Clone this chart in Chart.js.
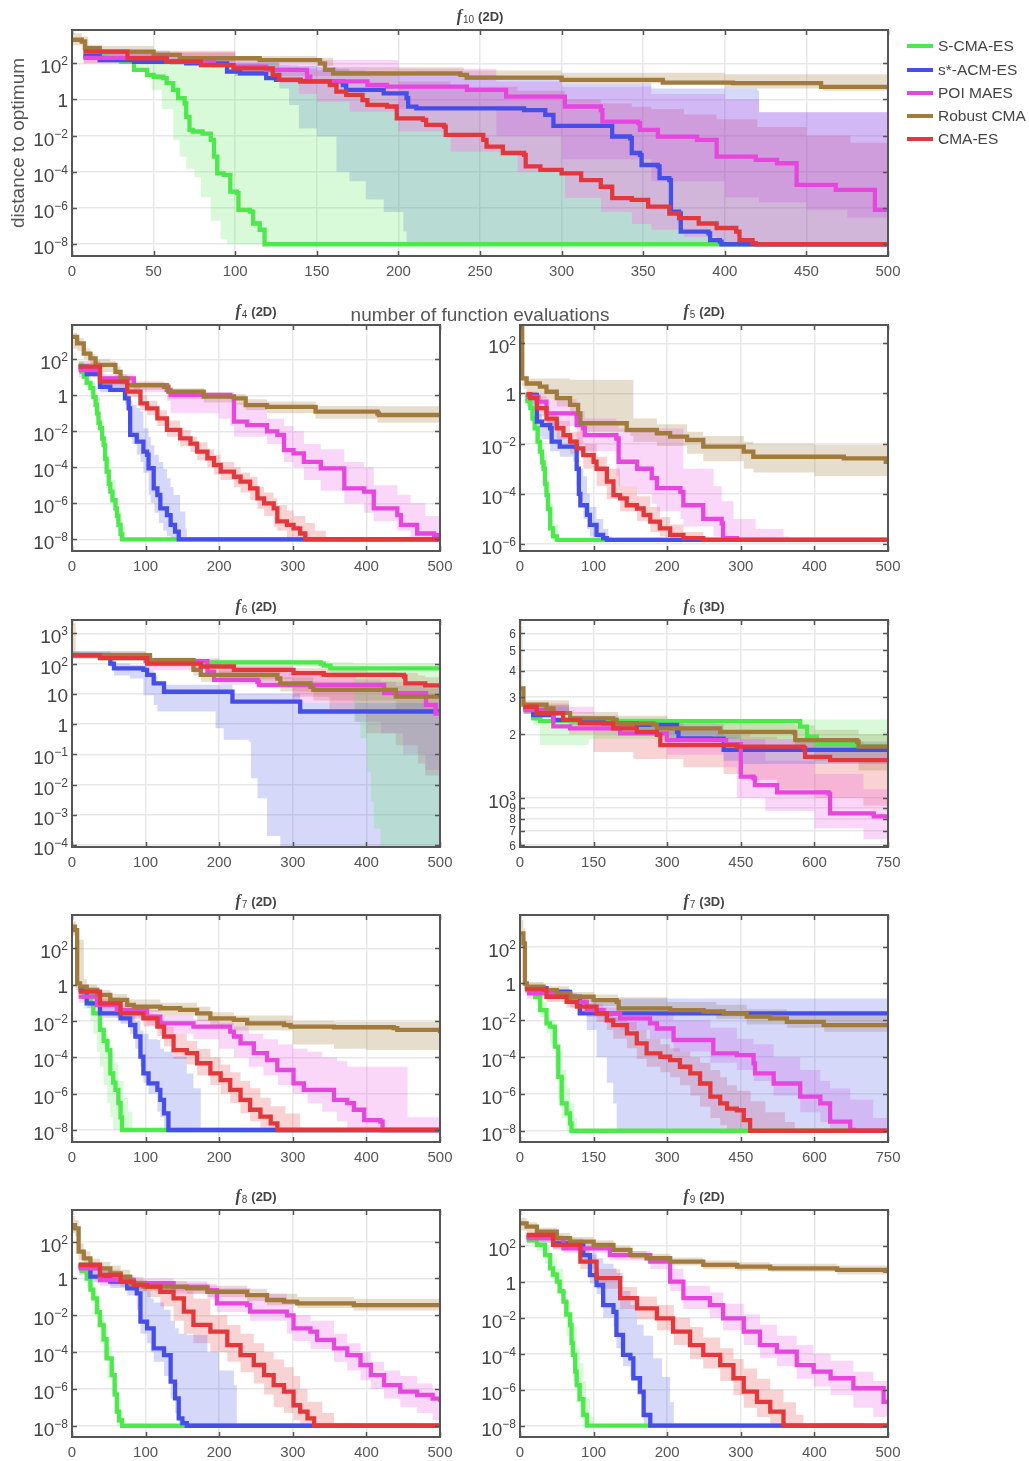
<!DOCTYPE html>
<html><head><meta charset="utf-8">
<script src="https://cdn.jsdelivr.net/npm/chart.js@4.4.1/dist/chart.umd.min.js"></script>
<style>
html,body{margin:0;padding:0;background:#fff}
body{width:1029px;height:1461px;position:relative;overflow:hidden;font-family:"Liberation Sans",Arial,sans-serif}
canvas{position:absolute}
.ttl{position:absolute;transform:translate(-50%,-50%);white-space:nowrap;color:#444;font-size:13px;font-weight:bold;line-height:16px}
.ttl i{font-family:"Liberation Serif",serif;font-size:16px;font-weight:bold;font-style:italic}
.ttl sub{font-size:10px;font-weight:normal;vertical-align:-2px;margin-left:1px;margin-right:4px}
.axl{position:absolute;color:#555;font-size:19px;white-space:nowrap}
.leg{position:absolute;left:907px;color:#444;font-size:15.5px;line-height:18px;white-space:nowrap}
.leg span{position:absolute;left:0;top:7px;width:26px;height:4px}
.leg b{font-weight:normal;position:absolute;left:31px;top:0}
</style></head><body>
<script>
// ---------------- series meta ----------------
const SERIES_KEYS = ['S','A','P','R','C'];
const SERIES_LABELS = ['S-CMA-ES','s*-ACM-ES','POI MAES','Robust CMA','CMA-ES'];
// ---------------- tick labels ----------------
const X_TICKS_50 = [0,50,100,150,200,250,300,350,400,450,500];
const X_TICKS_500 = [0,100,200,300,400,500];
const X_TICKS_750 = [0,150,300,450,600,750];
const Y_TICKS_8 = [1e-8,1e-6,1e-4,1e-2,1,1e2];
const Y_TICKS_6 = [1e-6,1e-4,1e-2,1,1e2];
const Y_TICKS_4 = [1e-4,1e-3,1e-2,1e-1,1,10,100,1000];
const Y_TICKS_F6_3D = [600,700,800,900,1000,2000,3000,4000,5000,6000];

// ---------------- f10 (2D) ----------------
const f10_S = [[7,250],[20,160],[30,120],[38,43],[46,23],[50,18],[56,15],[58,8],[62,3.4],[65,1.2],[69,0.6],[70,0.11],[72,0.021],[74,0.017],[80,0.013],[85,0.0058],[87,7e-4],[89,8.3e-5],[93,6.8e-5],[97,8e-6],[101,6.6e-6],[102,8e-7],[109,6.3e-7],[111,1.4e-7],[115,6.3e-8],[118,1e-8],[500,1e-8]];
const f10_S_band = [[7,150,600],[30,100,250],[40,40,200],[49,3.4,180],[55,0.3,160],[62,0.006,150],[66,7e-4,140],[70,1.5e-4,130],[75,5e-5,120],[79,4e-6,110],[85,2e-7,100],[91,2e-8,100],[95,1e-8,100],[127,1e-8,8],[139,1e-8,2],[150,1e-8,0.76],[170,1e-8,0.21],[200,1e-8,0.017],[232,1e-8,1.3e-3],[273,1e-8,1e-4],[302,1e-8,3.6e-6],[324,1e-8,6.3e-7],[343,1e-8,1.3e-7],[355,1e-8,6.3e-8],[375,1e-8,2.5e-8],[395,1e-8,1e-8],[500,1e-8,1e-8]];
const f10_A = [[7,250],[17,150],[38,120],[70,100],[95,35],[103,28],[119,15],[125,12],[140,10],[166,6.3],[168,3.4],[191,2.2],[205,1.2],[206,0.4],[211,0.32],[277,0.26],[290,0.14],[295,0.035],[330,0.035],[331,0.009],[342,0.0072],[343,0.0011],[348,8.7e-4],[349,2.4e-4],[359,2e-4],[360,4.5e-5],[366,3.5e-5],[367,6.3e-7],[372,5e-7],[373,5e-8],[390,4e-8],[391,1.7e-8],[397,1.4e-8],[398,1e-8],[500,1e-8]];
const f10_A_band = [[7,150,500],[60,80,200],[100,30,120],[127,4,80],[133,0.5,75],[139,0.025,70],[150,0.009,60],[162,1e-4,50],[170,3e-5,40],[180,3e-6,35],[191,6e-7,30],[203,5e-8,25],[205,1e-8,22],[260,1e-8,16],[300,1e-8,8],[355,1e-8,4],[420,1e-8,3],[421,1e-8,0.2],[500,1e-8,0.2]];
const f10_P = [[7,200],[58,126],[87,80],[99,66],[119,43],[144,18],[146,10],[181,6.3],[193,5.1],[242,3.4],[266,1.45],[302,0.41],[324,0.26],[325,0.06],[347,0.049],[348,0.021],[359,0.0089],[383,0.0058],[395,6.9e-4],[419,4.6e-4],[432,3e-4],[444,1.9e-5],[468,1e-5],[492,8e-7],[500,8e-7]];
const f10_P_band = [[7,100,400],[100,20,150],[200,0.3,50],[260,0.01,10],[300,5e-4,5],[355,3e-5,2],[400,4e-6,1],[421,2e-6,0.2],[450,8e-7,0.2],[475,3e-7,0.2],[500,2e-7,0.2]];
const f10_R = [[0,2000],[6,1600],[8,700],[17,440],[50,290],[66,190],[115,150],[152,100],[155,43],[160,28],[238,23],[242,16],[300,12],[362,8.5],[405,8],[459,5],[500,5]];
const f10_R_band = [[0,1000,4600],[6,600,3000],[10,300,900],[50,200,400],[100,120,250],[150,70,200],[160,20,60],[240,12,40],[300,8,30],[400,4,25],[460,3,25],[500,2.7,28]];
const f10_C = [[7,440],[34,190],[58,126],[79,80],[99,52],[123,23],[127,12],[140,10],[158,6.3],[162,2.7],[168,1.8],[178,0.93],[181,0.5],[193,0.41],[199,0.091],[215,0.074],[217,0.04],[228,0.032],[229,0.011],[246,0.011],[252,0.0058],[254,0.0025],[264,0.0011],[277,8.7e-4],[278,2e-4],[287,1.3e-4],[300,8.3e-5],[312,3.5e-5],[324,1.5e-5],[331,3.5e-6],[343,2.8e-6],[353,1.2e-6],[366,5e-7],[372,2.8e-7],[384,1.4e-7],[395,7.9e-8],[407,5e-8],[409,1.7e-8],[417,1.15e-8],[419,1e-8],[500,1e-8]];
const f10_C_band = [[7,100,500],[100,20,100],[127,8,60],[139,2,50],[150,0.76,40],[170,0.21,25],[200,0.017,10],[232,1.3e-3,5],[273,1e-4,3],[302,3.6e-6,1],[324,6.3e-7,0.6],[343,1.3e-7,0.4],[355,6.3e-8,0.3],[375,2.5e-8,0.15],[395,1e-8,0.08],[420,1e-8,0.03],[450,1e-8,0.01],[477,1e-8,0.004],[500,1e-8,0.004]];

// ---------------- f4 (2D) ----------------
const f4_S = [[9,49],[13,20],[16,11],[20,5],[25,2.5],[29,0.8],[32,0.3],[34,0.1],[36,0.03],[38,0.015],[41,4e-3],[43,1.7e-3],[45,3e-4],[47,5.8e-5],[50,1.2e-5],[52,4.5e-6],[55,1.5e-6],[59,5.2e-7],[61,2e-7],[63,6.3e-8],[66,2e-8],[68,1e-8],[500,1e-8]];
const f4_S_band = [[9,20,80],[16,5,20],[25,1,5],[32,0.05,0.8],[38,0.003,0.05],[43,3e-4,5e-3],[47,1e-5,3e-4],[52,1e-6,2e-5],[59,1e-7,2e-6],[63,1e-8,3e-7],[68,1e-8,5e-8],[72,1e-8,1e-8],[500,1e-8,1e-8]];
const f4_A = [[9,40],[20,15],[38,3],[52,2],[72,0.68],[77,0.19],[79,0.0063],[88,0.0027],[97,7.4e-4],[102,5e-4],[104,8.9e-5],[111,6.8e-6],[116,2.9e-6],[120,5.2e-7],[129,2.2e-7],[134,6.3e-8],[140,2.7e-8],[145,1e-8],[500,1e-8]];
const f4_A_band = [[9,20,60],[38,1.5,5],[72,0.3,1.2],[77,0.005,0.5],[82,0.002,0.29],[88,5e-4,0.2],[93,2e-4,0.126],[97,5e-5,0.015],[104,3e-6,0.005],[107,1e-6,1.7e-3],[112,3e-7,5e-4],[118,8e-8,2e-4],[124,3e-8,8e-5],[129,1.5e-8,2.5e-5],[134,1e-8,8e-6],[138,1e-8,2.9e-6],[147,1e-8,3.5e-7],[154,1e-8,4e-8],[156,1e-8,1e-8],[500,1e-8,1e-8]];
const f4_P = [[9,25],[38,8.7],[84,3.7],[129,2],[134,1.05],[215,0.85],[220,0.035],[238,0.022],[265,0.01],[279,0.0063],[288,9e-4],[301,6e-4],[315,2e-4],[338,8.7e-5],[370,6.8e-6],[397,4.5e-6],[410,5.2e-7],[442,2.2e-7],[447,6.3e-8],[469,2.1e-8],[492,1.7e-8],[496,1e-8],[500,1e-8]];
const f4_P_band = [[9,10,40],[38,4,15],[84,1.5,5],[129,0.5,2.5],[134,0.1,1.2],[200,0.05,1.1],[215,0.02,0.9],[220,0.005,0.4],[265,0.002,0.05],[288,2e-4,0.02],[301,1e-4,0.01],[315,2e-5,0.002],[338,5e-6,0.001],[370,1e-6,2e-4],[397,3e-7,1e-4],[410,1e-7,1e-5],[442,3e-8,3e-6],[460,1e-8,1e-6],[480,1e-8,2e-7],[500,1e-8,1e-7]];
const f4_R = [[0,1800],[7,780],[16,210],[25,115],[32,49],[52,49],[59,20],[66,8.7],[75,3.7],[125,3],[131,1.6],[179,0.85],[220,0.68],[236,0.29],[265,0.23],[331,0.126],[415,0.1],[417,0.081],[500,0.081]];
const f4_R_band = [[0,400,3000],[7,300,1500],[16,100,400],[25,50,200],[32,20,100],[52,20,80],[59,8,40],[66,4,15],[75,2,6],[125,1.5,5],[131,0.6,2.5],[179,0.4,1.5],[220,0.3,1.2],[236,0.15,0.6],[265,0.1,0.45],[331,0.05,0.26],[415,0.03,0.25],[500,0.028,0.25]];
const f4_C = [[9,40],[38,5.8],[75,1.6],[93,0.36],[102,0.19],[116,0.052],[129,0.012],[147,0.0041],[161,2.1e-3],[170,7.4e-4],[184,3.2e-4],[193,1.35e-4],[202,5.8e-5],[220,3e-5],[229,1.6e-5],[242,6.8e-6],[252,1.9e-6],[261,1e-6],[274,5.2e-7],[279,1e-7],[292,6.3e-8],[301,4.1e-8],[310,2.1e-8],[317,1e-8],[500,1e-8]];
const f4_C_band = [[9,20,80],[38,3,12],[75,0.8,3],[93,0.15,1],[102,0.08,0.5],[116,0.02,0.15],[129,0.005,0.04],[147,1.5e-3,0.012],[161,7e-4,5e-3],[170,2.5e-4,2.5e-3],[184,1e-4,1e-3],[193,4e-5,5e-4],[202,2e-5,2e-4],[220,8e-6,1e-4],[229,4e-6,5e-5],[242,1.5e-6,3e-5],[252,5e-7,8e-6],[261,2e-7,4e-6],[274,5e-8,2e-6],[279,3e-8,8e-7],[292,1e-8,4e-7],[301,1e-8,2e-7],[317,1e-8,8e-8],[330,1e-8,3e-8],[345,1e-8,1e-8],[500,1e-8,1e-8]];

// ---------------- f5 (2D) ----------------
const f5_S = [[7,0.87],[10,0.5],[14,0.26],[17,0.1],[20,0.041],[24,0.012],[27,0.0048],[30,0.0018],[32,0.001],[34,2.5e-4],[36,8.9e-5],[38,2.5e-5],[41,4.2e-6],[45,2e-6],[50,1.45e-6],[500,1.45e-6]];
const f5_S_band = [[7,0.5,1.2],[14,0.1,0.5],[20,0.01,0.1],[27,1e-3,0.012],[32,1.2e-4,0.003],[36,1.5e-5,3e-4],[41,2e-6,4e-5],[45,1.45e-6,6e-6],[52,1.45e-6,1.45e-6],[500,1.45e-6,1.45e-6]];
const f5_A = [[9,0.87],[23,0.076],[30,0.055],[41,0.041],[43,0.012],[54,0.0076],[72,0.0076],[77,0.001],[80,1e-4],[82,3.5e-5],[91,1.45e-5],[95,5.8e-6],[104,2.3e-6],[113,1.7e-6],[118,1.45e-6],[500,1.45e-6]];
const f5_A_band = [[9,0.3,1],[23,0.02,0.15],[30,0.015,0.1],[41,0.005,0.08],[54,0.003,0.02],[72,0.002,0.015],[77,2e-4,0.005],[80,5e-5,0.001],[86,1e-5,5e-4],[91,4e-6,1e-4],[95,2e-6,3e-5],[104,1.45e-6,1e-5],[113,1.45e-6,4e-6],[120,1.45e-6,2e-6],[125,1.45e-6,1.45e-6],[500,1.45e-6,1.45e-6]];
const f5_P = [[9,0.74],[25,0.47],[36,0.16],[77,0.055],[86,0.041],[88,0.022],[131,0.016],[134,0.0019],[159,0.001],[179,4.2e-4],[186,1.7e-4],[218,1.2e-4],[222,3.5e-5],[249,1e-5],[274,6.6e-6],[276,1.7e-6],[295,1.45e-6],[500,1.45e-6]];
const f5_P_band = [[9,0.4,1.1],[25,0.2,0.8],[36,0.05,0.6],[77,0.01,0.2],[88,0.005,0.1],[131,5e-4,0.06],[134,2e-4,0.04],[159,1e-4,0.04],[179,4e-5,0.04],[186,2e-5,0.04],[218,1e-5,0.04],[222,5e-6,0.001],[263,2e-6,2e-4],[274,1.45e-6,5e-5],[290,1.45e-6,1e-5],[320,1.45e-6,4e-6],[358,1.45e-6,2e-6],[365,1.45e-6,1.45e-6],[500,1.45e-6,1.45e-6]];
const f5_R = [[0,400],[3,4],[9,2.5],[27,1.86],[36,1.17],[50,0.65],[68,0.35],[79,0.16],[82,0.065],[143,0.065],[145,0.035],[186,0.026],[204,0.019],[227,0.014],[249,0.0076],[304,0.0048],[317,0.003],[440,0.0026],[497,0.0019],[500,0.0019]];
const f5_R_band = [[0,100,600],[3,2,300],[5,1.5,5],[9,1,4],[27,0.6,4],[50,0.3,4],[68,0.15,3.5],[82,0.03,3.5],[150,0.02,3.5],[154,0.012,0.1],[186,0.008,0.06],[227,0.004,0.03],[249,0.002,0.02],[304,0.001,0.012],[317,7e-4,0.01],[400,5e-4,0.009],[500,5e-4,0.009]];
const f5_C = [[9,0.93],[14,0.65],[23,0.26],[36,0.1],[50,0.041],[59,0.022],[68,0.012],[77,0.0065],[86,0.0035],[100,0.0019],[104,0.001],[118,3.1e-4],[127,8.9e-5],[136,6.6e-5],[145,3.5e-5],[159,2.6e-5],[168,1.45e-5],[177,7.8e-6],[190,4.2e-6],[204,2.3e-6],[222,1.7e-6],[249,1.45e-6],[500,1.45e-6]];
const f5_C_band = [[9,0.5,1.2],[23,0.12,0.5],[36,0.04,0.2],[50,0.015,0.08],[68,0.004,0.03],[86,0.001,0.01],[104,2e-4,0.003],[118,6e-5,0.001],[136,2e-5,2e-4],[159,8e-6,8e-5],[177,3e-6,3e-5],[190,2e-6,1.2e-5],[204,1.45e-6,6e-6],[222,1.45e-6,3e-6],[249,1.45e-6,1.8e-6],[270,1.45e-6,1.45e-6],[500,1.45e-6,1.45e-6]];

// ---------------- f6 (2D) ----------------
const f6a_S = [[0,190],[38,150],[106,115],[175,110],[338,100],[342,85],[351,69],[500,66]];
const f6a_S_band = [[0,150,250],[100,90,140],[300,80,120],[350,50,110],[383,1.2,100],[392,0.34,100],[401,0.026,100],[406,2.7e-3,100],[410,3.5e-4,100],[419,1e-5,100],[500,1e-5,100]];
const f6a_A = [[0,190],[52,100],[57,69],[97,62],[102,42],[111,22],[125,11.7],[215,11.7],[218,5.5],[306,5.5],[310,2.6],[492,2.6],[500,2.9]];
const f6a_A_band = [[0,150,250],[52,80,150],[57,40,100],[79,32,90],[97,9,80],[102,9,60],[111,4.3,40],[116,2.6,25],[125,2.6,20],[193,2.6,20],[195,0.72,20],[206,0.3,20],[218,0.3,10],[240,0.26,10],[243,0.016,10],[252,3.5e-3,10],[265,2e-4,10],[283,1e-5,10],[306,1e-5,10],[310,1e-5,5],[500,1e-5,5]];
const f6a_P = [[0,190],[100,120],[184,54],[193,29],[252,25],[254,19.5],[422,19.5],[424,10.5],[480,10.5],[481,4.3],[494,2.2],[500,2.2]];
const f6a_P_band = [[0,150,250],[100,60,150],[200,20,80],[300,5,40],[385,1.2,30],[420,0.5,25],[450,0.1,20],[480,0.03,15],[500,0.02,12]];
const f6a_R = [[0,190],[106,130],[165,62],[175,42],[279,32],[283,22],[324,17],[328,13.5],[437,13.5],[440,8],[500,8]];
const f6a_R_band = [[0,150,2100],[5,150,250],[10,150,220],[106,100,160],[165,40,90],[175,25,60],[283,12,35],[328,6,25],[440,3,18],[500,2,15]];
const f6a_C = [[0,190],[38,150],[102,100],[175,80],[220,62],[301,48],[342,42],[451,37],[453,22],[480,19],[500,19]];
const f6a_C_band = [[0,150,250],[100,80,130],[200,30,90],[300,8,70],[350,3,60],[400,0.5,55],[440,0.2,50],[470,0.05,40],[480,0.02,35],[500,0.015,35]];

// ---------------- f6 (3D) ----------------
const f6b_S = [[7,2650],[27,2380],[41,2310],[564,2310],[571,2175],[585,1950],[605,1810],[680,1750],[750,1720]];
const f6b_S_band = [[7,2500,2750],[27,2200,2500],[41,1780,2450],[136,1780,2400],[140,1900,2400],[300,1900,2350],[564,1800,2350],[600,1650,2350],[750,1600,2300]];
const f6b_A = [[7,2650],[27,2465],[68,2340],[170,2255],[238,2215],[320,2055],[323,1915],[388,1910],[415,1690],[578,1690],[750,1680]];
const f6b_A_band = [[7,2500,2750],[100,2200,2450],[200,2050,2350],[300,1900,2250],[415,1500,2000],[450,1450,1900],[600,1450,1850],[750,1450,1800]];
const f6b_P = [[7,2600],[68,2180],[102,2135],[204,2020],[299,1880],[415,1880],[420,1800],[449,1800],[450,1262],[476,1240],[479,1152],[520,1152],[524,1063],[629,1050],[632,847],[714,847],[721,820],[750,820]];
const f6b_P_band = [[7,2500,2700],[150,2000,2300],[300,1600,2100],[415,1400,1950],[442,1000,1900],[500,870,1500],[600,720,1300],[700,640,1100],[750,600,1000]];
const f6b_R = [[0,3300],[7,2760],[54,2650],[68,2520],[102,2380],[190,2340],[197,2255],[272,2215],[279,2135],[408,2055],[558,2040],[561,1880],[687,1845],[690,1750],[750,1750]];
const f6b_R_band = [[0,2800,6500],[5,2600,3000],[7,2550,2900],[100,2250,2550],[200,2100,2450],[300,2000,2350],[400,1900,2250],[560,1700,2200],[600,1500,2100],[690,1350,2000],[750,1300,2000]];
const f6b_C = [[7,2700],[34,2515],[88,2340],[122,2255],[190,2135],[238,2055],[279,1990],[286,1780],[408,1780],[442,1750],[578,1720],[581,1566],[632,1510],[750,1510]];
const f6b_C_band = [[7,2500,2800],[100,2000,2450],[150,1650,2350],[231,1530,2250],[333,1400,2100],[415,1300,2000],[469,1220,1950],[524,1100,1900],[600,1000,1850],[700,920,1800],[750,880,1750]];

// ---------------- f7 (2D) ----------------
const f7a_S = [[9,0.51],[16,0.22],[25,0.093],[29,0.026],[38,3.2e-3],[43,8e-4],[48,2.5e-4],[52,1.3e-5],[56,4e-6],[59,1.6e-6],[63,3e-7],[66,5e-8],[68,1e-8],[500,1e-8]];
const f7a_S_band = [[9,0.3,0.8],[16,0.05,0.4],[25,0.01,0.2],[29,2e-3,0.08],[34,2e-4,0.03],[38,3e-5,0.01],[43,3e-6,3e-3],[48,3e-7,1e-3],[52,5e-8,2e-4],[56,1e-8,5e-5],[63,1e-8,5e-6],[70,1e-8,6e-7],[76,1e-8,1e-7],[82,1e-8,1e-8],[500,1e-8,1e-8]];
const f7a_A = [[9,0.51],[20,0.093],[38,0.026],[66,0.014],[79,0.006],[86,1.4e-3],[93,1.1e-4],[97,1.3e-5],[104,3.7e-6],[116,1.6e-6],[120,4.5e-7],[125,8.3e-8],[131,1e-8],[500,1e-8]];
const f7a_A_band = [[9,0.3,0.8],[20,0.05,0.3],[38,0.015,0.1],[66,0.007,0.05],[79,0.002,0.02],[86,3e-4,0.01],[93,3e-5,3e-3],[97,4e-6,2e-3],[104,1e-6,1e-3],[116,1e-7,9e-4],[120,5e-8,3e-4],[125,1e-8,2e-4],[138,1e-8,1.1e-4],[156,1e-8,1.3e-5],[165,1e-8,2e-6],[175,1e-8,1e-8],[500,1e-8,1e-8]];
const f7a_P = [[9,0.22],[34,0.076],[61,0.041],[102,0.017],[120,7.4e-3],[165,4.9e-3],[215,2.6e-3],[220,1.4e-3],[229,5.9e-4],[247,1.7e-4],[265,7e-5],[279,2e-5],[301,3.7e-6],[315,1.6e-6],[347,1.6e-6],[356,4.5e-7],[374,3e-7],[383,1.3e-7],[397,3.5e-8],[419,2.9e-8],[422,1e-8],[500,1e-8]];
const f7a_P_band = [[9,0.1,0.5],[34,0.03,0.15],[61,0.015,0.08],[102,0.006,0.04],[120,0.002,0.02],[165,1e-3,0.012],[200,3e-4,0.008],[220,1e-4,5e-3],[240,3e-5,2e-3],[260,1e-5,1e-3],[280,3e-6,5e-4],[300,1e-6,3e-4],[320,3e-7,2e-4],[340,1e-7,1e-4],[360,3e-8,6e-5],[374,1e-8,3e-5],[455,1e-8,3e-5],[456,1e-8,5e-8],[500,1e-8,5e-8]];
const f7a_R = [[0,1550],[4,1000],[7,1.17],[11,0.78],[20,0.51],[34,0.27],[52,0.145],[75,0.076],[84,0.062],[120,0.05],[147,0.041],[170,0.026],[188,0.014],[220,0.0115],[238,0.0074],[288,0.006],[297,0.0049],[356,0.0045],[437,0.004],[442,0.0032],[496,0.0032],[500,0.0021]];
const f7a_R_band = [[0,500,3000],[5,0.5,290],[16,0.3,2],[20,0.2,1],[34,0.1,0.5],[52,0.06,0.3],[75,0.03,0.15],[120,0.02,0.1],[170,0.01,0.06],[188,0.006,0.03],[220,0.003,0.02],[300,5e-4,0.01],[356,3e-4,0.009],[400,2.5e-4,0.009],[500,2.5e-4,0.009]];
const f7a_C = [[9,0.41],[38,0.093],[66,0.026],[97,0.014],[116,4.9e-3],[125,1.4e-3],[138,2.5e-4],[156,1.7e-4],[170,4.7e-5],[188,1.3e-5],[202,5.6e-6],[215,1.6e-6],[229,4.5e-7],[242,1.3e-7],[256,5.4e-8],[270,2.3e-8],[279,1e-8],[500,1e-8]];
const f7a_C_band = [[9,0.2,0.7],[38,0.05,0.2],[66,0.012,0.05],[97,0.005,0.025],[116,1.5e-3,0.012],[125,4e-4,5e-3],[138,8e-5,2e-3],[156,4e-5,8e-4],[170,1e-5,3e-4],[188,3e-6,1e-4],[202,1e-6,4e-5],[215,3e-7,1.5e-5],[229,8e-8,5e-6],[242,3e-8,2e-6],[256,1e-8,6e-7],[270,1e-8,2e-7],[290,1e-8,8e-8],[310,1e-8,1e-8],[500,1e-8,1e-8]];

// ---------------- f7 (3D) ----------------
const f7b_S = [[10,0.55],[31,0.19],[41,0.036],[54,0.0068],[61,0.0045],[71,3.7e-4],[78,8.5e-6],[85,3.1e-7],[95,8.7e-8],[102,2.5e-8],[105,1e-8],[750,1e-8]];
const f7b_S_band = [[10,0.4,0.7],[31,0.1,0.3],[41,0.015,0.1],[54,2e-3,0.02],[61,5e-4,0.01],[71,2e-5,2e-3],[78,5e-7,2e-4],[85,5e-8,2e-5],[95,1e-8,2e-6],[102,1e-8,3e-7],[110,1e-8,5e-8],[116,1e-8,1e-8],[750,1e-8,1e-8]];
const f7b_A = [[10,0.55],[54,0.35],[102,0.19],[122,0.024],[197,0.024],[750,0.026]];
const f7b_A_band = [[10,0.4,0.8],[54,0.2,0.5],[102,0.1,0.3],[116,0.08,0.155],[122,0.02,0.155],[136,3e-3,0.155],[156,1e-4,0.155],[177,4e-6,0.155],[190,3e-7,0.155],[197,1e-8,0.155],[750,1e-8,0.155]];
const f7b_P = [[14,0.29],[102,0.1],[136,0.036],[170,0.024],[204,0.0126],[265,6.8e-3],[279,3.6e-3],[313,8.5e-4],[388,8.5e-4],[394,1.6e-4],[442,1.3e-4],[476,4.6e-5],[479,1.3e-5],[517,3.7e-6],[571,7.1e-7],[612,3.1e-7],[632,3.1e-8],[673,1.1e-8],[680,1e-8],[750,1e-8]];
const f7b_P_band = [[14,0.15,0.5],[102,0.05,0.2],[136,0.015,0.08],[170,8e-3,0.05],[204,3e-3,0.03],[265,1e-3,0.02],[313,2e-4,0.01],[388,5e-5,4e-3],[442,2e-5,1e-3],[476,5e-6,5e-4],[517,8e-7,1e-4],[571,1e-7,2e-5],[612,3e-8,5e-6],[632,1e-8,2e-6],[673,1e-8,5e-7],[720,1e-8,5e-8],[750,1e-8,3e-8]];
const f7b_R = [[0,525],[7,150],[10,1],[14,0.68],[48,0.44],[75,0.29],[102,0.19],[150,0.126],[197,0.1],[201,0.045],[306,0.036],[374,0.03],[415,0.024],[462,0.016],[510,0.0126],[544,0.0083],[619,0.0055],[750,0.0055]];
const f7b_R_band = [[0,100,2800],[7,50,1000],[10,0.5,3],[14,0.4,1.2],[48,0.25,0.7],[100,0.1,0.35],[150,0.06,0.25],[200,0.03,0.18],[300,0.02,0.1],[400,0.012,0.07],[462,0.006,0.04],[544,0.004,0.025],[620,0.0024,0.02],[750,0.0024,0.02]];
const f7b_C = [[10,0.48],[54,0.19],[95,0.1],[116,0.055],[156,0.024],[177,0.01],[190,5.5e-3],[218,1.95e-3],[238,5.6e-4],[258,1.6e-4],[286,1.05e-4],[306,6.9e-5],[326,3e-5],[347,1.3e-5],[367,3.7e-6],[388,7.1e-7],[408,3.1e-7],[422,1.6e-7],[442,1.3e-7],[456,3.8e-8],[469,1e-8],[750,1e-8]];
const f7b_C_band = [[10,0.3,0.7],[54,0.1,0.3],[95,0.05,0.15],[116,0.02,0.09],[156,0.008,0.05],[177,3e-3,0.025],[190,1e-3,0.015],[218,3e-4,8e-3],[238,8e-5,3e-3],[258,3e-5,1e-3],[286,1.5e-5,5e-4],[306,8e-6,3e-4],[326,3e-6,2e-4],[347,8e-7,1e-4],[367,2e-7,5e-5],[388,5e-8,2e-5],[408,2e-8,8e-6],[422,1e-8,3e-6],[442,1e-8,1.5e-6],[470,1e-8,4e-7],[500,1e-8,1e-7],[540,1e-8,3e-8],[560,1e-8,1e-8],[750,1e-8,1e-8]];

// ---------------- f8 (2D) ----------------
const f8_S = [[9,5.4],[14,2.5],[20,1],[25,0.25],[29,0.083],[34,0.015],[38,3e-3],[43,5e-4],[47,4.6e-5],[54,5.6e-6],[58,5e-7],[61,5.8e-8],[64,2e-8],[68,1e-8],[500,1e-8]];
const f8_S_band = [[9,3,8],[20,0.3,2],[25,0.08,0.6],[30,0.01,0.2],[34,2e-3,0.04],[38,3e-4,0.01],[43,4e-5,2e-3],[48,4e-6,2e-4],[54,5e-7,2e-5],[58,5e-8,3e-6],[61,1e-8,3e-7],[66,1e-8,5e-8],[70,1e-8,1e-8],[500,1e-8,1e-8]];
const f8_A = [[9,4.4],[25,1.26],[52,0.68],[75,0.29],[88,0.155],[93,4.5e-3],[102,1.95e-3],[111,1.6e-4],[125,6.9e-5],[134,2.5e-6],[140,3.1e-7],[145,2.5e-8],[150,1.4e-8],[156,1e-8],[500,1e-8]];
const f8_A_band = [[9,2,8],[25,0.6,3],[52,0.3,1.5],[75,0.12,0.8],[88,0.02,0.5],[93,1e-3,0.3],[102,3e-4,0.2],[107,1e-4,0.083],[111,3e-5,0.05],[125,5e-6,0.02],[134,3e-7,5e-3],[140,5e-8,2e-3],[145,1e-8,1e-3],[156,1e-8,8.5e-4],[184,1e-8,1e-4],[200,1e-8,1e-5],[220,1e-8,1.6e-6],[224,1e-8,1e-8],[500,1e-8,1e-8]];
const f8_P = [[9,3.5],[38,0.83],[84,0.55],[138,0.35],[184,0.23],[197,0.045],[238,0.036],[242,0.016],[292,0.01],[301,1.95e-3],[324,1.3e-3],[333,4.6e-4],[356,1.6e-4],[374,6.9e-5],[392,2e-5],[406,5.6e-6],[424,1.6e-6],[446,7.1e-7],[469,4.7e-7],[490,3e-7],[500,2e-7]];
const f8_P_band = [[9,1.5,6],[38,0.4,1.5],[84,0.25,1],[138,0.15,0.7],[184,0.08,0.5],[197,0.015,0.3],[242,5e-3,0.15],[292,1e-3,0.05],[301,4e-4,0.01],[324,1.5e-4,5e-3],[356,3e-5,1e-3],[374,1e-5,3e-4],[392,3e-6,1e-4],[406,1e-6,3e-5],[424,3e-7,1e-5],[446,1e-7,5e-6],[469,5e-8,2e-6],[490,2e-8,1e-6],[500,1e-8,1e-6]];
const f8_R = [[0,800],[4,525],[9,29],[16,12.3],[25,5.4],[38,3.5],[52,1.9],[66,1.26],[79,0.55],[97,0.36],[156,0.29],[184,0.19],[238,0.126],[265,0.068],[288,0.055],[306,0.045],[383,0.036],[500,0.036]];
const f8_R_band = [[0,300,2500],[4,200,1500],[9,10,80],[16,5,30],[25,2.5,12],[38,1.5,8],[52,0.9,5],[66,0.6,3],[79,0.3,1.2],[97,0.2,0.7],[156,0.15,0.55],[184,0.1,0.4],[238,0.06,0.28],[265,0.035,0.15],[306,0.025,0.1],[383,0.018,0.08],[500,0.015,0.07]];
const f8_C = [[9,5.4],[38,1.55],[66,0.68],[84,0.44],[102,0.36],[120,0.19],[138,0.083],[152,0.016],[165,3e-3],[188,1.3e-3],[211,2.4e-4],[229,6.9e-5],[247,2e-5],[261,5.6e-6],[274,1.6e-6],[288,7.1e-7],[301,1.3e-7],[310,5.8e-8],[320,2.5e-8],[329,1e-8],[500,1e-8]];
const f8_C_band = [[9,3,8],[38,0.8,3],[66,0.35,1.2],[84,0.2,0.8],[102,0.1,0.6],[120,0.03,0.4],[138,5e-3,0.3],[152,1e-3,0.2],[165,3e-4,0.08],[188,1e-4,0.01],[211,3e-5,3e-3],[229,8e-6,1e-3],[247,2e-6,3e-4],[261,5e-7,1e-4],[274,1e-7,4e-5],[288,5e-8,1.5e-5],[301,2e-8,5e-6],[310,1e-8,1e-6],[320,1e-8,2e-7],[340,1e-8,5e-8],[356,1e-8,1e-8],[500,1e-8,1e-8]];

// ---------------- f9 (2D) ----------------
const f9_S = [[9,200],[23,110],[34,30],[41,5.5],[45,2.5],[50,1],[54,0.3],[59,0.078],[63,0.015],[68,3.9e-3],[70,4e-4],[72,8.5e-5],[75,1e-5],[77,1.8e-6],[81,3e-7],[86,3.9e-8],[91,1e-8],[500,1e-8]];
const f9_S_band = [[9,120,300],[23,50,200],[34,10,80],[41,1.5,20],[50,0.2,5],[59,0.01,0.3],[63,1e-3,0.08],[68,1e-4,0.02],[72,3e-6,3e-3],[77,2e-7,2e-4],[81,3e-8,3e-5],[86,1e-8,3e-6],[90,1e-8,3e-7],[95,1e-8,3e-8],[100,1e-8,1e-8],[500,1e-8,1e-8]];
const f9_A = [[9,316],[45,135],[86,30],[95,2.3],[104,0.65],[113,0.05],[127,0.021],[131,1.1e-3],[140,8.5e-5],[150,5.5e-5],[154,4.3e-6],[163,7.8e-7],[168,3.9e-8],[177,1e-8],[500,1e-8]];
const f9_A_band = [[9,150,500],[45,70,250],[86,10,60],[95,0.8,40],[104,0.2,20],[113,0.01,10],[127,3e-3,5.5],[131,2e-4,3],[140,2e-5,0.3],[150,5e-6,0.05],[159,5e-7,4e-3],[168,1e-8,1e-3],[181,1e-8,5.5e-5],[193,1e-8,5e-6],[204,1e-8,2e-7],[209,1e-8,1e-8],[500,1e-8,1e-8]];
const f9_P = [[9,260],[59,70],[122,30],[177,13],[204,1],[222,0.12],[258,0.05],[276,9.1e-3],[304,1.66e-3],[326,3e-4],[349,1.3e-4],[376,2.3e-5],[399,1e-5],[422,4.3e-6],[453,1.2e-6],[494,2.1e-7],[500,2.1e-7]];
const f9_P_band = [[9,150,400],[59,40,120],[122,15,50],[177,5,25],[204,0.3,5],[222,0.03,0.6],[258,0.01,0.25],[276,2e-3,0.06],[304,3e-4,0.015],[326,6e-5,4e-3],[349,2e-5,1e-3],[376,4e-6,3e-4],[399,1.5e-6,1e-4],[422,5e-7,4e-5],[453,1e-7,1e-5],[480,3e-8,3e-6],[500,1e-8,1e-6]];
const f9_R = [[0,1740],[9,1150],[23,600],[50,260],[68,166],[100,110],[127,58],[150,30],[172,20],[204,13],[249,8.5],[295,6.8],[340,5.5],[431,4.5],[496,4],[500,2.9]];
const f9_R_band = [[0,700,3500],[9,600,2000],[23,300,1000],[50,150,500],[68,100,300],[100,60,200],[127,35,100],[150,18,50],[172,12,35],[204,8,22],[249,5,15],[295,4,12],[340,3.5,10],[431,2.5,8],[500,1.8,7]];
const f9_C = [[9,390],[45,110],[82,13],[104,1.55],[136,0.12],[159,0.033],[186,9.1e-3],[208,1.66e-3],[231,3e-4],[249,8.5e-5],[272,2.3e-5],[290,4.3e-6],[304,7.8e-7],[322,2.1e-7],[340,6e-8],[358,1e-8],[500,1e-8]];
const f9_C_band = [[9,200,600],[45,60,200],[82,5,30],[104,0.4,5],[136,0.03,0.5],[159,8e-3,0.15],[186,2e-3,0.05],[209,3e-4,0.01],[231,5e-5,3e-3],[249,1.5e-5,8e-4],[272,3e-6,2e-4],[290,5e-7,5e-5],[304,1e-7,1.5e-5],[322,3e-8,4e-6],[340,1e-8,1e-6],[358,1e-8,2e-7],[375,1e-8,4e-8],[385,1e-8,1e-8],[500,1e-8,1e-8]];

// ---------------- styles / layout (kept apart from data) ----------------
const STYLE = {
  S:{line:'rgb(76,232,76)',  band:'rgba(76,232,76,0.22)'},
  A:{line:'rgb(70,78,232)',  band:'rgba(70,78,232,0.22)'},
  P:{line:'rgb(230,70,222)', band:'rgba(230,70,222,0.22)'},
  R:{line:'rgb(162,122,60)', band:'rgba(162,122,60,0.26)'},
  C:{line:'rgb(226,56,60)',  band:'rgba(226,56,60,0.22)'}
};
const LINE_ORDER = {S:5,A:4,P:3,R:2,C:1};

const PLOTS = [
  {name:'f10', sub:'10', dim:'2D', L:72, T:30,  R:888, B:256,  xMax:500, xTicks:X_TICKS_50,  yTicks:Y_TICKS_8, yMinE:-8.65, yMaxE:3.84},
  {name:'f4',  sub:'4',  dim:'2D', L:72, T:325, R:440, B:551,  xMax:500, xTicks:X_TICKS_500, yTicks:Y_TICKS_8, yMinE:-8.65, yMaxE:3.91},
  {name:'f5',  sub:'5',  dim:'2D', L:520,T:325, R:888, B:551,  xMax:500, xTicks:X_TICKS_500, yTicks:Y_TICKS_6, yMinE:-6.28, yMaxE:2.73},
  {name:'f6a', sub:'6',  dim:'2D', L:72, T:620, R:440, B:847,  xMax:500, xTicks:X_TICKS_500, yTicks:Y_TICKS_4, yMinE:-4.066, yMaxE:3.44},
  {name:'f6b', sub:'6',  dim:'3D', L:520,T:620, R:888, B:847,  xMax:750, xTicks:X_TICKS_750, yTicks:Y_TICKS_F6_3D, yMinE:2.769, yMaxE:3.841},
  {name:'f7a', sub:'7',  dim:'2D', L:72, T:915, R:440, B:1142, xMax:500, xTicks:X_TICKS_500, yTicks:Y_TICKS_8, yMinE:-8.66, yMaxE:3.83},
  {name:'f7b', sub:'7',  dim:'3D', L:520,T:915, R:888, B:1142, xMax:750, xTicks:X_TICKS_750, yTicks:Y_TICKS_8, yMinE:-8.61, yMaxE:3.72},
  {name:'f8',  sub:'8',  dim:'2D', L:72, T:1210,R:440, B:1437, xMax:500, xTicks:X_TICKS_500, yTicks:Y_TICKS_8, yMinE:-8.61, yMaxE:3.72},
  {name:'f9',  sub:'9',  dim:'2D', L:520,T:1210,R:888, B:1437, xMax:500, xTicks:X_TICKS_500, yTicks:Y_TICKS_8, yMinE:-8.63, yMaxE:3.98}
];
const DATA = {
  f10:{S:[f10_S,f10_S_band],A:[f10_A,f10_A_band],P:[f10_P,f10_P_band],R:[f10_R,f10_R_band],C:[f10_C,f10_C_band]},
  f4:{S:[f4_S,f4_S_band],A:[f4_A,f4_A_band],P:[f4_P,f4_P_band],R:[f4_R,f4_R_band],C:[f4_C,f4_C_band]},
  f5:{S:[f5_S,f5_S_band],A:[f5_A,f5_A_band],P:[f5_P,f5_P_band],R:[f5_R,f5_R_band],C:[f5_C,f5_C_band]},
  f6a:{S:[f6a_S,f6a_S_band],A:[f6a_A,f6a_A_band],P:[f6a_P,f6a_P_band],R:[f6a_R,f6a_R_band],C:[f6a_C,f6a_C_band]},
  f6b:{S:[f6b_S,f6b_S_band],A:[f6b_A,f6b_A_band],P:[f6b_P,f6b_P_band],R:[f6b_R,f6b_R_band],C:[f6b_C,f6b_C_band]},
  f7a:{S:[f7a_S,f7a_S_band],A:[f7a_A,f7a_A_band],P:[f7a_P,f7a_P_band],R:[f7a_R,f7a_R_band],C:[f7a_C,f7a_C_band]},
  f7b:{S:[f7b_S,f7b_S_band],A:[f7b_A,f7b_A_band],P:[f7b_P,f7b_P_band],R:[f7b_R,f7b_R_band],C:[f7b_C,f7b_C_band]},
  f8:{S:[f8_S,f8_S_band],A:[f8_A,f8_A_band],P:[f8_P,f8_P_band],R:[f8_R,f8_R_band],C:[f8_C,f8_C_band]},
  f9:{S:[f9_S,f9_S_band],A:[f9_A,f9_A_band],P:[f9_P,f9_P_band],R:[f9_R,f9_R_band],C:[f9_C,f9_C_band]}
};

const PAD = {left:72, top:10, right:24, bottom:32};
const FONT = '"Liberation Sans", Arial, sans-serif';

function expText(e){ return String(e).replace('-', '\u2212'); }

const framePlugin = {
  id:'frame',
  afterDraw(chart){
    const {ctx, chartArea:a, scales:{x, y}} = chart;
    ctx.save();
    ctx.strokeStyle = '#555'; ctx.lineWidth = 1.5;
    ctx.beginPath();
    for (const t of x.ticks){ const px = Math.round(x.getPixelForValue(t.value))+0.5;
      ctx.moveTo(px, a.top); ctx.lineTo(px, a.top+5); ctx.moveTo(px, a.bottom); ctx.lineTo(px, a.bottom-5); }
    for (const t of y.ticks){ const py = Math.round(y.getPixelForValue(t.value))+0.5;
      ctx.moveTo(a.left, py); ctx.lineTo(a.left+5, py); ctx.moveTo(a.right, py); ctx.lineTo(a.right-5, py); }
    ctx.stroke();
    ctx.strokeStyle = '#555'; ctx.lineWidth = 2;
    ctx.strokeRect(a.left, a.top, a.right-a.left, a.bottom-a.top);
    ctx.fillStyle = '#555'; ctx.font = '15px '+FONT; ctx.textAlign = 'center'; ctx.textBaseline = 'alphabetic';
    for (const t of x.ticks){ ctx.fillText(String(t.value), x.getPixelForValue(t.value), a.bottom+20); }
    ctx.fillStyle = '#444'; ctx.textAlign = 'left';
    const xr = a.left - 4;
    for (const t of y.ticks){
      const v = t.value, py = y.getPixelForValue(v);
      const lg = Math.log10(v), e = Math.round(lg);
      if (Math.abs(lg - e) > 1e-6){
        const m = Math.round(v / Math.pow(10, Math.floor(lg + 1e-9)));
        ctx.font = '12px '+FONT; const w = ctx.measureText(String(m)).width;
        ctx.fillText(String(m), xr - w, py + 4.5);
      } else if (e === 0 || e === 1){
        const s = e === 0 ? '1' : '10';
        ctx.font = '19px '+FONT; const w = ctx.measureText(s).width;
        ctx.fillText(s, xr - w, py + 8);
      } else {
        const es = expText(e);
        ctx.font = '12px '+FONT; const we = ctx.measureText(es).width;
        ctx.font = '19px '+FONT; const wb = ctx.measureText('10').width;
        ctx.fillText('10', xr - we - wb, py + 10);
        ctx.font = '12px '+FONT; ctx.fillText(es, xr - we, py + 2);
      }
    }
    ctx.restore();
  }
};

function pts(arr, k){ return arr.map(p => ({x:p[0], y:p[k]})); }

for (const P of PLOTS){
  const W = (P.R - P.L) + PAD.left + PAD.right;
  const H = (P.B - P.T) + PAD.top + PAD.bottom;
  const cv = document.createElement('canvas');
  cv.width = W; cv.height = H;
  cv.style.left = (P.L - PAD.left) + 'px'; cv.style.top = (P.T - PAD.top) + 'px';
  cv.style.width = W + 'px'; cv.style.height = H + 'px';
  document.body.appendChild(cv);
  const d = DATA[P.name];
  const datasets = [];
  for (const k of SERIES_KEYS){
    const band = d[k][1];
    datasets.push({data:pts(band,1), borderColor:'rgba(0,0,0,0)', borderWidth:0, pointRadius:0, stepped:true, fill:false, order:10});
    datasets.push({data:pts(band,2), borderColor:'rgba(0,0,0,0)', borderWidth:0, pointRadius:0, stepped:true, fill:'-1', backgroundColor:STYLE[k].band, order:10});
  }
  SERIES_KEYS.forEach((k, i) => {
    datasets.push({label:SERIES_LABELS[i], data:pts(d[k][0],1), borderColor:STYLE[k].line, borderWidth:4.3, pointRadius:0,
      stepped:true, fill:false, order:LINE_ORDER[k], borderJoinStyle:'miter', borderCapStyle:'butt'});
  });
  new Chart(cv, {
    type:'line',
    data:{datasets},
    options:{
      responsive:false, animation:false, devicePixelRatio:1, events:[],
      layout:{padding:PAD},
      plugins:{legend:{display:false}, tooltip:{enabled:false}},
      scales:{
        x:{type:'linear', min:0, max:P.xMax,
           afterBuildTicks:s => { s.ticks = P.xTicks.map(v => ({value:v})); },
           afterFit:s => { s.height = 0; },
           ticks:{display:false}, grid:{color:'#e8e8e8', lineWidth:1.5, drawTicks:false}, border:{display:false}},
        y:{type:'logarithmic', min:Math.pow(10,P.yMinE), max:Math.pow(10,P.yMaxE),
           afterBuildTicks:s => { s.ticks = P.yTicks.map(v => ({value:v})); },
           afterFit:s => { s.width = 0; },
           ticks:{display:false}, grid:{color:'#e8e8e8', lineWidth:1.5, drawTicks:false}, border:{display:false}}
      }
    },
    plugins:[framePlugin]
  });
  const t = document.createElement('div');
  t.className = 'ttl';
  t.style.left = ((P.L + P.R) / 2) + 'px';
  t.style.top = (P.T - 12) + 'px';
  t.innerHTML = '<i>f</i><sub>' + P.sub + '</sub>(' + P.dim + ')';
  document.body.appendChild(t);
}

const xl = document.createElement('div'); xl.className = 'axl';
xl.textContent = 'number of function evaluations';
xl.style.left = '480px'; xl.style.top = '315px'; xl.style.transform = 'translate(-50%,-50%)';
document.body.appendChild(xl);
const yl = document.createElement('div'); yl.className = 'axl';
yl.textContent = 'distance to optimum';
yl.style.left = '18px'; yl.style.top = '143px'; yl.style.transform = 'translate(-50%,-50%) rotate(-90deg)';
document.body.appendChild(yl);

const LEG_Y = [46, 69.5, 92.5, 115.5, 139];
SERIES_KEYS.forEach((k, i) => {
  const r = document.createElement('div'); r.className = 'leg';
  r.style.top = (LEG_Y[i] - 9) + 'px';
  r.innerHTML = '<span style="background:' + STYLE[k].line + '"></span><b>' + SERIES_LABELS[i] + '</b>';
  document.body.appendChild(r);
});
</script>
</body></html>
